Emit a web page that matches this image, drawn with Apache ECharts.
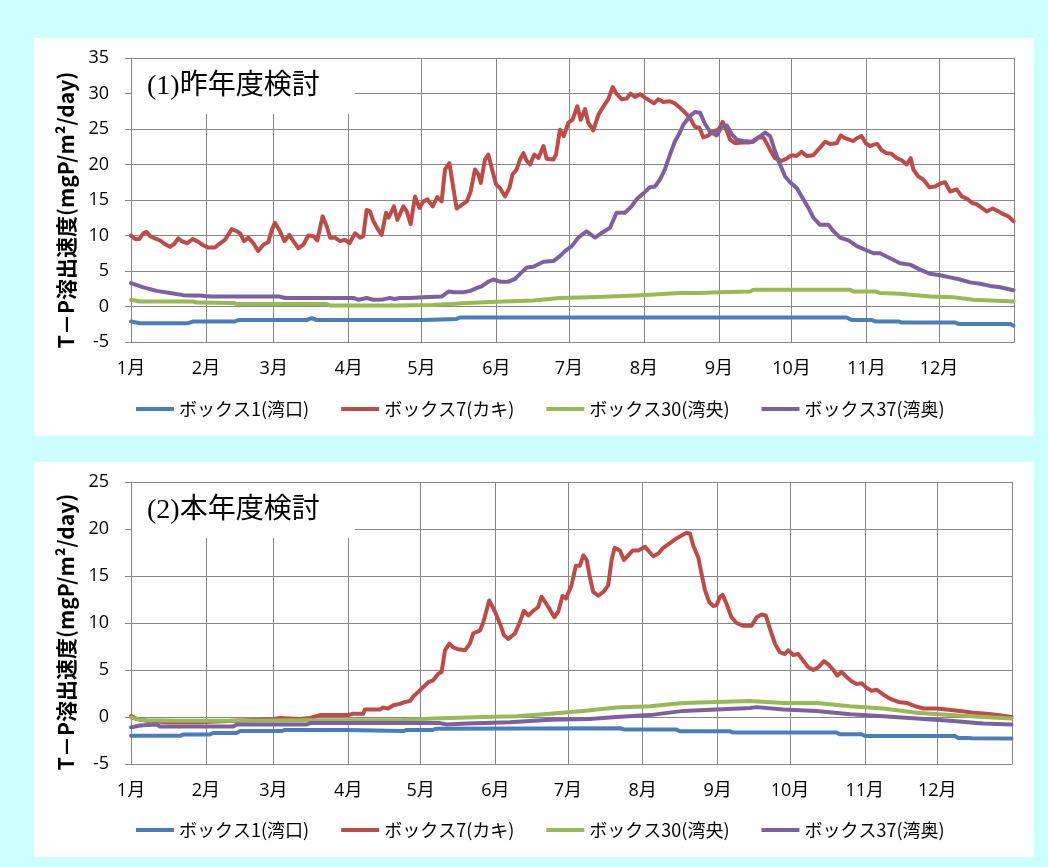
<!DOCTYPE html>
<html>
<head>
<meta charset="utf-8">
<script src="https://cdn.jsdelivr.net/npm/echarts@6/dist/echarts.min.js"></script>
<style>
  html, body { margin: 0; padding: 0; background: #ccffff; }
  body { width: 1048px; height: 867px; position: relative; overflow: hidden; }
  .panel { position: absolute; background: #ffffff; }
  #chart { position: absolute; left: 0; top: 0; width: 1048px; height: 867px; }
</style>
</head>
<body>
<div class="panel" style="left:34px;top:38px;width:1000px;height:398px;"></div>
<div class="panel" style="left:34px;top:462px;width:1000px;height:395px;"></div>
<div id="chart"></div>
<script>
// Month labels and the day-of-year on which each month starts
const months = ['1月', '2月', '3月', '4月', '5月', '6月', '7月', '8月', '9月', '10月', '11月', '12月'];
const monthStarts = [0, 31, 59, 90, 120, 151, 181, 212, 243, 273, 304, 334];
const seriesNames = ['ボックス1(湾口)', 'ボックス7(カキ)', 'ボックス30(湾央)', 'ボックス37(湾奥)'];
const panelTitles = ['(1)昨年度検討', '(2)本年度検討'];
const yTitle = 'T－P溶出速度(mgP/m²/day)';

// (1) 昨年度検討 : [day of year, mgP/m2/day]
const prevBox1 = [[0,-2.1],[3.7,-2.35],[23.7,-2.35],[25.8,-2.1],[43,-2.1],[44.4,-1.9],[72.6,-1.9],[74.7,-1.65],[76.8,-1.9],[120.9,-1.9],[121.6,-1.75],[134.6,-1.75],[136,-1.55],[295.8,-1.55],[297.9,-1.9],[306.2,-1.9],[307.6,-2.1],[317.2,-2.1],[318.6,-2.25],[340.6,-2.25],[342,-2.45],[363.4,-2.45],[364.8,-2.7]];
const prevBox7 = [[0,10.0],[1.7,9.5],[3.4,9.5],[5.1,10.3],[6.5,10.5],[7.9,9.9],[9.9,9.6],[12,9.3],[14,8.8],[16.1,8.4],[17.8,8.8],[19.6,9.6],[21,9.2],[23.3,8.9],[25.5,9.5],[27.8,9.1],[29.9,8.6],[32,8.3],[34.7,8.3],[36.8,8.9],[38.9,9.4],[41.6,10.9],[43.7,10.6],[45.1,10.3],[46.7,9.2],[48.5,9.7],[50.6,8.9],[52.6,7.8],[54.7,8.7],[56.8,9.1],[58.2,10.8],[59.5,11.8],[61.6,10.6],[63.4,9.2],[65.5,10.1],[67.1,9.2],[69.2,8.2],[71.2,8.7],[73.3,10.0],[75.4,9.9],[77,9.3],[79.2,12.7],[80.9,11.3],[82.3,9.7],[84.3,9.7],[86.4,9.2],[88.5,9.4],[90.3,8.9],[92.6,10.3],[94.7,9.7],[96,9.9],[97.4,13.6],[98.8,13.4],[100.2,12.0],[102.2,10.8],[103.6,10.1],[105.4,13.2],[106.5,12.5],[108.7,14.1],[110.1,12.2],[112.6,14.1],[114,13.4],[115.6,11.6],[117.4,15.5],[119.2,13.9],[120.9,14.8],[122.5,15.1],[124.7,14.1],[126.6,15.4],[128.4,14.8],[129.8,19.3],[131.6,20.2],[133,17.2],[134.6,13.8],[136.7,14.3],[138.8,14.8],[140.4,16.2],[142.2,19.3],[143.6,18.6],[144.6,17.4],[146.3,20.7],[147.7,21.4],[149.1,19.5],[150.9,17.2],[152.5,16.7],[154.6,15.5],[156.4,16.7],[157.7,18.6],[159.4,19.3],[160.8,20.7],[162.2,21.6],[163.6,20.5],[165,20.0],[166.7,21.4],[168.4,20.9],[170.5,22.6],[171.8,20.8],[174.6,20.7],[175.7,21.4],[177.3,24.9],[178.9,24.0],[180.8,25.9],[182.5,26.3],[184.5,28.2],[185.9,26.3],[187.7,27.8],[189,25.9],[191.1,24.8],[193.2,27.0],[195.3,28.2],[197.3,29.2],[199.1,30.9],[200.8,29.9],[202.8,29.2],[204.9,29.3],[206.5,30.0],[208.3,29.5],[210.4,29.9],[212.5,29.4],[214.5,29.0],[216.2,28.6],[218,29.2],[220,28.8],[222.8,28.9],[224.9,28.6],[226.9,28.0],[229,27.3],[231,26.6],[233.1,25.3],[234.9,25.2],[236.6,23.8],[238.7,24.1],[240.7,24.7],[242.8,24.9],[244.6,26.0],[246.3,24.7],[247.6,23.5],[249.7,23.0],[252.5,23.1],[255.2,23.1],[257.3,23.2],[259.3,23.8],[261.4,23.8],[263.1,22.8],[264.4,21.9],[266.2,20.9],[268.9,20.5],[271.3,20.9],[273.1,21.3],[275.1,21.2],[277.2,21.8],[279.3,21.2],[282,21.3],[284.1,22.1],[286.9,23.2],[288.9,22.9],[291.7,23.0],[293.4,24.1],[294.7,23.8],[296.9,23.5],[298.6,23.3],[300,23.7],[302,24.0],[303.7,23.0],[305.5,22.6],[307.1,22.8],[308.5,22.9],[310.3,22.0],[312.4,21.6],[314.4,21.5],[316.5,20.9],[318.6,20.6],[320.6,20.0],[322.3,20.9],[323.4,19.3],[325.5,18.3],[327.5,17.9],[330,16.8],[332.4,16.9],[334.4,17.3],[336.5,17.5],[338.6,16.2],[341.3,16.5],[343.4,15.5],[345.5,15.2],[347.5,14.6],[349.6,14.4],[351.7,13.9],[353.7,13.4],[356.2,13.8],[358.6,13.4],[360.6,13.0],[362.7,12.7],[364.8,12.0]];
const prevBox30 = [[0,0.95],[3.7,0.7],[25.8,0.7],[27.1,0.55],[42.3,0.5],[43.7,0.35],[80.9,0.35],[82.3,0.15],[111,0.15],[125,0.2],[138.8,0.5],[153.9,0.7],[166.3,0.85],[177.3,1.2],[189.7,1.3],[209,1.55],[226.9,1.9],[235,1.9],[243.5,2.0],[255.9,2.1],[257.3,2.35],[297.2,2.35],[298.6,2.1],[308.2,2.1],[309.6,1.9],[317.9,1.8],[330.3,1.4],[339.9,1.3],[348.2,0.95],[364.8,0.7]];
const prevBox37 = [[0,3.3],[5.1,2.7],[10.6,2.2],[16.1,1.9],[21.6,1.6],[24.4,1.55],[28.5,1.55],[32.7,1.4],[42.3,1.4],[56.1,1.4],[61.6,1.4],[63.7,1.2],[69.9,1.2],[83.6,1.2],[91.9,1.2],[94,0.95],[97.4,1.2],[100.2,0.95],[104.3,1.0],[107,1.2],[109,1.05],[111.2,1.2],[115.3,1.2],[120.9,1.3],[128.4,1.4],[131.2,2.1],[133.5,2.0],[137.4,2.0],[140.2,2.2],[143.6,2.7],[145,2.85],[147.7,3.5],[149.8,3.8],[152.6,3.5],[156,3.5],[158.8,3.9],[160.8,4.6],[163.6,5.5],[166.3,5.6],[170.5,6.3],[174.6,6.4],[177.3,7.1],[179.4,7.8],[182.2,8.5],[184.9,9.7],[188.3,10.6],[191.8,9.7],[195.2,10.5],[198,11.1],[200.7,13.2],[204.2,13.2],[206.9,14.1],[209,15.1],[211.7,15.9],[214.5,16.8],[216.6,16.9],[218.7,17.9],[220.7,19.3],[222.8,21.4],[224.9,23.3],[226.9,24.5],[228.3,25.6],[231,26.8],[233.1,27.4],[235.2,27.3],[237.3,25.7],[239.4,24.6],[242.1,24.1],[244.2,25.3],[246.3,25.5],[248.3,24.3],[250.4,23.5],[253.1,23.3],[256.6,23.2],[259.3,23.8],[262.1,24.5],[264.2,24.0],[266.2,21.9],[268.3,20.0],[270.4,18.3],[272.4,17.5],[275.2,16.7],[277.9,15.1],[280,13.9],[282.1,12.5],[284.8,11.5],[288.3,11.5],[290.4,10.6],[293.1,9.7],[296.6,9.3],[300,8.5],[304.1,7.9],[306.9,7.5],[309.6,7.5],[313.8,6.8],[317.9,6.1],[322,5.9],[326.2,5.2],[330.3,4.6],[334.4,4.4],[338.6,4.1],[342.7,3.8],[346.9,3.4],[351,3.2],[355.1,2.9],[359.3,2.7],[364.8,2.3]];

// (2) 本年度検討 : [day of year, mgP/m2/day]
const curBox1 = [[0,-2.0],[20.3,-2.0],[21.7,-1.85],[32.7,-1.85],[34.1,-1.7],[43.8,-1.7],[45.2,-1.5],[62.4,-1.5],[63.8,-1.38],[89.3,-1.38],[90,-1.5],[112.8,-1.5],[114.2,-1.38],[125,-1.38],[126.6,-1.24],[202.6,-1.2],[204.7,-1.34],[226,-1.34],[227.4,-1.52],[248.2,-1.52],[249.5,-1.66],[292.3,-1.66],[293.7,-1.84],[302.7,-1.84],[304.1,-2.02],[341.3,-2.02],[342.7,-2.23],[346.5,-2.23],[347.2,-2.1],[348.6,-2.25],[364.8,-2.3]];
const curBox7 = [[0,0.1],[2.3,-0.2],[6.5,-0.4],[14.8,-0.55],[28.6,-0.55],[42.4,-0.4],[53.4,-0.3],[59,-0.2],[61.7,-0.1],[70,-0.2],[74.2,-0.1],[78.3,0.2],[83.8,0.2],[90,0.2],[92.1,0.35],[96.2,0.35],[96.9,0.8],[103.1,0.8],[104.5,1.0],[106.5,0.9],[108.7,1.25],[111.4,1.4],[113.5,1.6],[115.6,1.7],[117,2.2],[119,2.65],[121.1,3.2],[123.2,3.7],[125.2,3.9],[127.3,4.6],[128.7,4.8],[130.1,7.1],[131.9,7.8],[133.5,7.4],[135.6,7.2],[138.4,7.1],[140.4,7.8],[141.8,8.9],[144.6,9.2],[146,10.1],[148.4,12.4],[150.8,11.2],[152.9,9.9],[154.5,8.7],[156.3,8.3],[159.1,8.9],[161.1,10.1],[162.8,11.3],[164.6,10.8],[166.7,11.3],[168.7,11.7],[170.1,12.8],[172.9,11.7],[175.4,10.6],[177,11.2],[178.8,12.9],[180.2,12.6],[182.5,14.0],[184.3,16.1],[186,16.1],[187.4,17.2],[188.8,16.7],[190.1,14.9],[191.5,13.3],[193.6,12.9],[195.7,13.3],[197.7,14.0],[199.1,16.7],[200.4,18.0],[202.6,17.7],[204.2,16.7],[206,17.2],[207.8,17.7],[210.2,17.7],[213,18.1],[215,17.5],[216.4,17.1],[218.5,17.4],[220.5,18.0],[223.3,18.5],[226,19.0],[228.1,19.3],[230.2,19.6],[231.6,19.5],[233,18.2],[235,17.0],[236.4,15.2],[237.8,13.5],[239.6,12.2],[241.3,11.8],[242.6,11.9],[244,12.8],[245.1,13.0],[246.8,12.0],[248.8,10.6],[250.9,10.0],[253.7,9.7],[257.1,9.7],[259.2,10.6],[261.3,10.9],[263,10.8],[264.7,9.4],[266.8,7.8],[268.8,6.9],[270.9,6.7],[272.3,7.1],[274.4,6.6],[276.4,6.7],[278.5,6.0],[280.6,5.3],[282.7,5.0],[284.8,5.3],[287.1,5.95],[288.9,5.6],[291,5.0],[292.6,4.4],[294.4,4.8],[296.5,4.25],[298.5,3.8],[300.6,3.5],[302.7,3.6],[304.7,3.1],[306.8,2.8],[308.9,2.9],[311.6,2.4],[314.4,1.95],[317.9,1.6],[321.4,1.5],[324.8,1.15],[328.3,0.9],[333.8,0.9],[337.9,0.8],[343.4,0.65],[348.9,0.45],[354.5,0.35],[360,0.2],[364.8,0.0]];
const curBox30 = [[0,-0.05],[3.7,-0.3],[6.5,-0.35],[18.9,-0.4],[42.4,-0.4],[70,-0.35],[111.4,-0.35],[125,-0.17],[146,0],[159.8,0.07],[173.6,0.35],[187.4,0.65],[201,1.0],[215,1.15],[228.8,1.5],[242.6,1.6],[256.4,1.7],[270.3,1.5],[284,1.5],[297.9,1.15],[311.6,0.9],[325.5,0.45],[339.3,0.2],[353,0],[364.8,-0.15]];
const curBox37 = [[0,-1.1],[3.7,-0.9],[10.6,-0.8],[12,-1.0],[42.4,-1.0],[43.8,-0.8],[72.8,-0.8],[74.2,-0.65],[128,-0.65],[130.8,-0.8],[139,-0.7],[157,-0.55],[173.6,-0.3],[190,-0.2],[201,0],[215,0.2],[228.8,0.65],[242.6,0.8],[256.4,0.95],[259.2,1.05],[270.3,0.8],[284,0.65],[297.9,0.3],[311.6,0.07],[325.5,-0.17],[339.3,-0.4],[353,-0.7],[364.8,-0.8]];

const colors = ['#4a7ebb', '#be4b48', '#98b954', '#7d60a0'];
const gridColor = '#878787';
const numFont = '"Open Sans", "Noto Sans CJK JP", sans-serif';
const jpFont = '"Noto Sans CJK JP", sans-serif';

const panels = [
  { grid: { left: 131, top: 58, width: 883, height: 284 }, yMax: 35, data: [prevBox1, prevBox7, prevBox30, prevBox37], legendTop: 395, titleY: 210 },
  { grid: { left: 131, top: 482, width: 881, height: 282 }, yMax: 25, data: [curBox1, curBox7, curBox30, curBox37], legendTop: 816, titleY: 632 }
];

// vertical grid lines at every month start plus the right edge
const tickDays = monthStarts.concat([365]);

const option = {
  animation: false,
  color: colors,
  grid: panels.map(p => Object.assign({ containLabel: false }, p.grid)),
  xAxis: panels.map((p, i) => ({
    type: 'value', gridIndex: i, min: 0, max: 365,
    axisLine: { show: true, onZero: false, lineStyle: { color: gridColor, width: 1 } },
    axisTick: { show: false, customValues: tickDays },
    splitLine: { show: true, lineStyle: { color: gridColor, width: 1 } },
    axisLabel: {
      customValues: monthStarts,
      formatter: v => months[monthStarts.indexOf(Math.round(v))] || '',
      margin: 18, fontSize: 18, color: '#000', fontFamily: numFont
    }
  })),
  yAxis: panels.map((p, i) => ({
    type: 'value', gridIndex: i, min: -5, max: p.yMax, interval: 5,
    axisLine: { show: true, lineStyle: { color: gridColor, width: 1 } },
    axisTick: { show: true, inside: false, length: 6, lineStyle: { color: gridColor } },
    splitLine: { show: true, lineStyle: { color: gridColor, width: 1 } },
    axisLabel: { margin: 22, fontSize: 18, color: '#000', fontFamily: numFont }
  })),
  legend: panels.map(p => ({
    data: seriesNames, left: 131, top: p.legendTop, orient: 'horizontal',
    icon: 'rect', itemWidth: 38, itemHeight: 4, itemGap: 32,
    textStyle: { fontSize: 18, color: '#000', fontFamily: jpFont }
  })),
  graphic: panels.flatMap((p, i) => [
    { type: 'rect', z: 10, shape: { x: p.grid.left + 1, y: p.grid.top + 1, width: 223, height: 55 }, style: { fill: '#ffffff' } },
    { type: 'text', z: 11, x: 147, y: p.grid.top + 29, style: { text: panelTitles[i], font: '28px "Liberation Serif", "Noto Sans CJK JP", serif', fill: '#000', verticalAlign: 'middle', align: 'left' } },
    { type: 'text', z: 11, x: 66, y: p.titleY, rotation: Math.PI / 2, style: { text: yTitle, font: 'bold 21px "Noto Sans CJK JP", sans-serif', fill: '#000', align: 'center', verticalAlign: 'middle' } }
  ]),
  series: panels.flatMap((p, i) => p.data.map((d, k) => ({
    name: seriesNames[k], type: 'line', xAxisIndex: i, yAxisIndex: i,
    data: d, symbol: 'none', smooth: false, z: 2 + (k === 3 ? 1 : 0),
    lineStyle: { width: 4, color: colors[k], cap: 'round', join: 'round' },
    itemStyle: { color: colors[k] }
  })))
};

const chart = echarts.init(document.getElementById('chart'), null, { renderer: 'canvas' });
chart.setOption(option);
</script>
</body>
</html>
